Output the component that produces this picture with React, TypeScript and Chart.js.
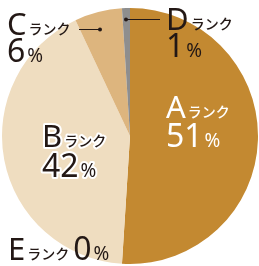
import React, { useEffect, useRef } from "react";
import { Chart, registerables } from "chart.js";

Chart.register(...registerables);

const categories = ["A", "B", "C", "D", "E"];
const values = [51, 42, 6, 1, 0];
const colors = ["#C38931", "#EFDDC0", "#DDB57E", "#8E8E8E", "#CCCCCC"];
const suffix = "ランク";

const LATIN = '"Noto Sans", "Lato", sans-serif';
const JP = '"Noto Sans CJK JP", sans-serif';

type Lbl = {
  idx: number;
  x: number;
  y1: number;
  y2: number;
  color: string;
  outline?: boolean;
  inline?: boolean;
};

const labelDefs: Lbl[] = [
  { idx: 0, x: 166, y1: 118, y2: 147, color: "#FFFFFF" },
  { idx: 1, x: 42, y1: 147, y2: 177, color: "#231815", outline: true },
  { idx: 2, x: 7, y1: 35, y2: 62, color: "#231815" },
  { idx: 3, x: 166, y1: 30, y2: 57, color: "#231815" },
  { idx: 4, x: 8, y1: 260, y2: 260, color: "#231815", inline: true },
];

const leaders = [
  { x1: 79, x2: 100, y: 29, dotX: 100 },
  { x1: 126, x2: 160, y: 19, dotX: 126 },
];

const F_LETTER = `400 31px ${LATIN}`;
const F_JP = `500 14px ${JP}`;
const F_NUM = `400 32px ${LATIN}`;
const F_PCT = `400 19px ${LATIN}`;

const labelPlugin = {
  id: "labels",
  afterDraw(chart: any) {
    const ctx = chart.ctx as CanvasRenderingContext2D;
    ctx.save();
    ctx.textBaseline = "alphabetic";
    ctx.textAlign = "left";
    ctx.lineJoin = "round";
    const put = (t: string, x: number, y: number, font: string, l: Lbl) => {
      ctx.font = font;
      if (l.outline) {
        ctx.strokeStyle = "#FFFFFF";
        ctx.lineWidth = 4;
        ctx.strokeText(t, x, y);
      }
      ctx.fillStyle = l.color;
      ctx.fillText(t, x, y);
      return x + ctx.measureText(t).width;
    };
    for (const l of labelDefs) {
      let x = put(categories[l.idx], l.x, l.y1, F_LETTER, l);
      x = put(suffix, x + 2, l.y1 - 1, F_JP, l);
      const nx = l.inline ? x + 4 : l.x;
      const num = String(values[l.idx]);
      const ex = put(num, nx, l.y2, F_NUM, l);
      put("%", ex + 2, l.y2, F_PCT, l);
    }
    ctx.strokeStyle = "#231815";
    ctx.fillStyle = "#231815";
    ctx.lineWidth = 1;
    for (const ld of leaders) {
      ctx.beginPath();
      ctx.moveTo(ld.x1, ld.y + 0.5);
      ctx.lineTo(ld.x2, ld.y + 0.5);
      ctx.stroke();
      ctx.beginPath();
      ctx.arc(ld.dotX, ld.y + 0.5, 2, 0, Math.PI * 2);
      ctx.fill();
    }
    ctx.restore();
  },
};

export default function App() {
  const ref = useRef<HTMLCanvasElement>(null);
  useEffect(() => {
    if (!ref.current) return;
    const chart = new Chart(ref.current, {
      type: "pie",
      data: {
        labels: categories,
        datasets: [
          {
            data: values,
            backgroundColor: colors,
            borderWidth: 0,
          },
        ],
      },
      options: {
        responsive: false,
        animation: false,
        layout: { padding: { left: 2, right: 1, top: 8, bottom: 2 } },
        plugins: {
          legend: { display: false },
          tooltip: { enabled: false },
        },
      },
      plugins: [labelPlugin],
    });
    return () => chart.destroy();
  }, []);
  return (
    <div style={{ position: "fixed", left: 0, top: 0, width: 259, height: 266, background: "#FFFFFF" }}>
      <canvas ref={ref} width={259} height={266} style={{ width: 259, height: 266, display: "block" }} />
    </div>
  );
}
